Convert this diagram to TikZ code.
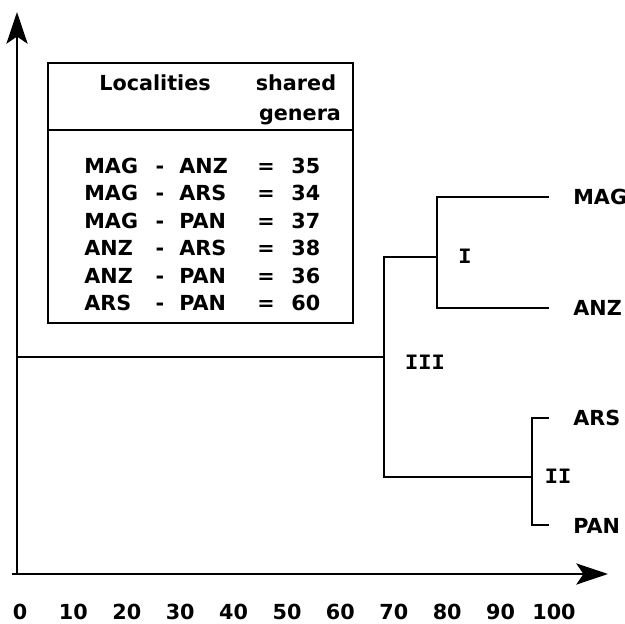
\documentclass[tikz,border=0pt]{standalone}
\usepackage{fontspec}
\usetikzlibrary{arrows.meta}
\newfontfamily\labfont{DejaVu Sans}
\newfontfamily\romfont{Liberation Mono}
\tikzset{
  lab/.style={font=\labfont\bfseries\fontsize{11.8}{17}\selectfont, inner sep=0pt, text height=8.6pt, text depth=0pt},
  rom/.style={font=\romfont\bfseries\fontsize{12.5}{14}\selectfont, inner sep=0pt, text height=7pt, text depth=0pt},
  br/.style={line width=1.6pt},
  ax/.style={line width=1.6pt, -{Stealth[length=18pt, width=12pt, inset=4pt]}}
}
\begin{document}
\begin{tikzpicture}[x=0.02cm, y=-0.02cm]
    \useasboundingbox (0,0) rectangle (625,624);

    % axes
    \coordinate (O) at (17,574);
    \coordinate (Xs) at (12,574);
    \coordinate (Xt) at (608,574);
    \coordinate (Yt) at (17,12);
    \draw[ax] (O) -- (Yt);
    \draw[ax] (Xs) -- (Xt);
    \foreach \v in {0,...,10}
        \node[lab] (t\v) at ({20+53.4*\v},612) {\number\numexpr\v*10\relax};

    % table
    \coordinate (tabnw) at (48,63);
    \coordinate (tabse) at (353,323);
    \coordinate (sepw) at (48,130);
    \coordinate (sepe) at (353,130);
    \draw[br] (tabnw) rectangle (tabse);
    \draw[br] (sepw) -- (sepe);
    \node[lab] (hloc) at (155,83) {Localities};
    \node[lab] (hsh) at (296,83) {shared};
    \node[lab] (hgen) at (300,113) {genera};
    \foreach \a/\b/\n [count=\i] in {MAG/ANZ/35, MAG/ARS/34, MAG/PAN/37, ANZ/ARS/38, ANZ/PAN/36, ARS/PAN/60} {
        \node[lab, anchor=west] (pa\i) at (84,{166+27.4*(\i-1)}) {\a};
        \node[lab] (pd\i) at (160,{166+27.4*(\i-1)}) {-};
        \node[lab, anchor=west] (pb\i) at (179,{166+27.4*(\i-1)}) {\b};
        \node[lab] (pe\i) at (266,{166+27.4*(\i-1)}) {=};
        \node[lab, anchor=west] (pn\i) at (291,{166+27.4*(\i-1)}) {\n};
    }

    % dendrogram
    \coordinate (mag) at (549,197);
    \coordinate (anz) at (549,308);
    \coordinate (ars) at (549,418);
    \coordinate (pan) at (549,525);
    \coordinate (nI) at (437,257);
    \coordinate (nII) at (532,477);
    \coordinate (nIII) at (384,357);
    \coordinate (root) at (17,357);
    \node[lab, anchor=west] (MAG) at (573,197) {MAG};
    \node[lab, anchor=west] (ANZ) at (573,308) {ANZ};
    \node[lab, anchor=west] (ARS) at (573,418) {ARS};
    \node[lab, anchor=west] (PAN) at (573,526) {PAN};
    \node[rom] (lI) at (465,257) {I};
    \node[rom] (lII) at (558,477) {II};
    \node[rom] (lIII) at (425,363) {III};
    \draw[br] (mag) -| (nI) |- (anz);
    \draw[br] (ars) -| (nII) |- (pan);
    \draw[br] (nI) -| (nIII) |- (nII);
    \draw[br] (root) -- (nIII);
\end{tikzpicture}
\end{document}
